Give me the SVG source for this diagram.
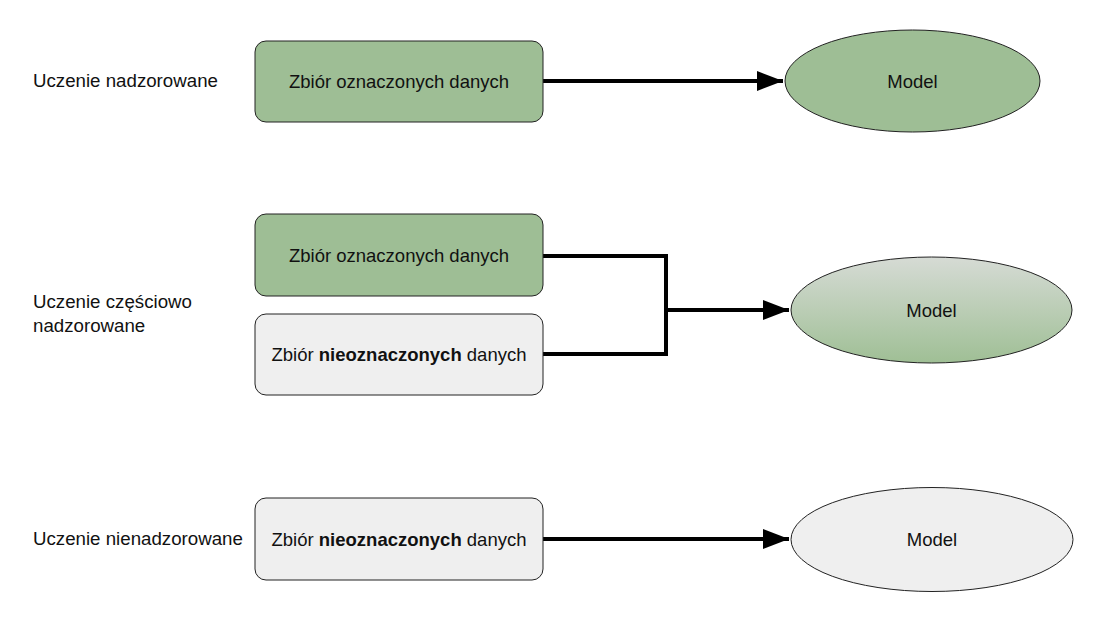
<svg xmlns="http://www.w3.org/2000/svg" width="1096" height="621" viewBox="0 0 1096 621">
<defs>
<linearGradient id="grad" x1="0" y1="0" x2="0" y2="1">
<stop offset="0" stop-color="#d6dbd5"/>
<stop offset="1" stop-color="#9fbf95"/>
</linearGradient>
<marker id="arr" markerUnits="userSpaceOnUse" markerWidth="28" markerHeight="22" refX="26" refY="10" orient="auto">
<path d="M0,0 L26,10 L0,20 Z" fill="#000"/>
</marker>
<style>
text{font-family:"Liberation Sans",Arial,sans-serif;fill:#111}
.lbl{font-size:18.7px}
.t{font-size:18.5px;text-anchor:middle}
.green{fill:#9ebe95;stroke:#222;stroke-width:1}
.gray{fill:#efefef;stroke:#222;stroke-width:1}
.grad{fill:url(#grad);stroke:#222;stroke-width:1}
.c{fill:none;stroke:#000;stroke-width:4}
</style>
</defs>
<g id="labels">
<text class="lbl" x="33" y="87">Uczenie nadzorowane</text>
<text class="lbl" x="33" y="308">Uczenie częściowo</text>
<text class="lbl" x="33" y="332">nadzorowane</text>
<text class="lbl" x="33" y="545">Uczenie nienadzorowane</text>
</g>
<g id="connectors">
<path class="c" d="M543,81 H783" marker-end="url(#arr)"/>
<path class="c" d="M543,256 H666 V354 H543"/>
<path class="c" d="M666,310 H789" marker-end="url(#arr)"/>
<path class="c" d="M543,539 H789" marker-end="url(#arr)"/>
</g>
<g id="box1">
<rect class="green" x="255" y="41" width="288" height="81" rx="11"/>
<text class="t" x="399" y="88">Zbiór oznaczonych danych</text>
</g>
<g id="model1">
<ellipse class="green" cx="912.5" cy="81" rx="127.5" ry="51"/>
<text class="t" x="912.5" y="88">Model</text>
</g>
<g id="box2">
<rect class="green" x="255" y="214" width="288" height="82" rx="11"/>
<text class="t" x="399" y="262">Zbiór oznaczonych danych</text>
</g>
<g id="box3">
<rect class="gray" x="255" y="314" width="288" height="81" rx="11"/>
<text class="t" x="399" y="361">Zbiór <tspan font-weight="bold">nieoznaczonych</tspan> danych</text>
</g>
<g id="model2">
<ellipse class="grad" cx="931.5" cy="310" rx="140.5" ry="53"/>
<text class="t" x="931.5" y="317">Model</text>
</g>
<g id="box4">
<rect class="gray" x="255" y="498" width="288" height="82" rx="11"/>
<text class="t" x="399" y="546">Zbiór <tspan font-weight="bold">nieoznaczonych</tspan> danych</text>
</g>
<g id="model3">
<ellipse class="gray" cx="932" cy="539.5" rx="141" ry="52"/>
<text class="t" x="932" y="546">Model</text>
</g>
</svg>
